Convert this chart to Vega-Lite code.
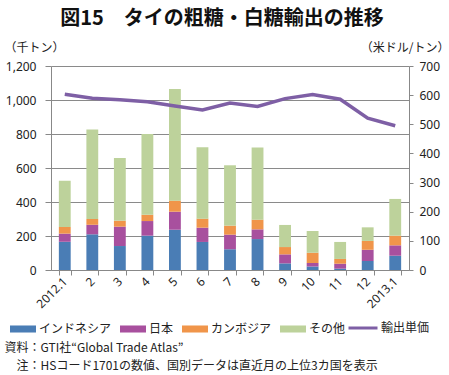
{
  "$schema": "https://vega.github.io/schema/vega-lite/v6.json",
  "width": 358,
  "height": 204,
  "autosize": {"type": "none"},
  "padding": {"left": 51, "top": 66, "right": 40, "bottom": 105},
  "background": "white",
  "title": {
    "text": "図15　タイの粗糖・白糖輸出の推移",
    "font": "Noto Sans CJK JP",
    "fontSize": 20,
    "fontWeight": "bold",
    "color": "#111",
    "anchor": "middle",
    "frame": "group",
    "dx": -8,
    "dy": -8
  },
  "config": {
    "view": {"stroke": null},
    "font": "Noto Sans CJK JP",
    "axis": {
      "labelFont": "Noto Sans",
      "labelFontSize": 12,
      "labelColor": "#222",
      "domainColor": "#888",
      "tickColor": "#888",
      "gridColor": "#8a8a8a",
      "gridOpacity": 1,
      "titleFont": "Noto Sans CJK JP",
      "titleFontSize": 12,
      "titleFontWeight": "normal",
      "titleColor": "#222"
    },
    "legend": {
      "padding": 0,
      "labelFont": "Noto Sans CJK JP",
      "labelFontSize": 12,
      "labelColor": "#222"
    }
  },
  "datasets": {
    "bars": [
      {"m": "2012.1", "s": "インドネシア", "k": 1, "v": 166},
      {"m": "2012.1", "s": "日本", "k": 2, "v": 48},
      {"m": "2012.1", "s": "カンボジア", "k": 3, "v": 39},
      {"m": "2012.1", "s": "その他", "k": 4, "v": 272},
      {"m": "2", "s": "インドネシア", "k": 1, "v": 210},
      {"m": "2", "s": "日本", "k": 2, "v": 56},
      {"m": "2", "s": "カンボジア", "k": 3, "v": 34},
      {"m": "2", "s": "その他", "k": 4, "v": 527},
      {"m": "3", "s": "インドネシア", "k": 1, "v": 141},
      {"m": "3", "s": "日本", "k": 2, "v": 114},
      {"m": "3", "s": "カンボジア", "k": 3, "v": 35},
      {"m": "3", "s": "その他", "k": 4, "v": 369},
      {"m": "4", "s": "インドネシア", "k": 1, "v": 202},
      {"m": "4", "s": "日本", "k": 2, "v": 86},
      {"m": "4", "s": "カンボジア", "k": 3, "v": 37},
      {"m": "4", "s": "その他", "k": 4, "v": 475},
      {"m": "5", "s": "インドネシア", "k": 1, "v": 237},
      {"m": "5", "s": "日本", "k": 2, "v": 106},
      {"m": "5", "s": "カンボジア", "k": 3, "v": 65},
      {"m": "5", "s": "その他", "k": 4, "v": 657},
      {"m": "6", "s": "インドネシア", "k": 1, "v": 165},
      {"m": "6", "s": "日本", "k": 2, "v": 84},
      {"m": "6", "s": "カンボジア", "k": 3, "v": 53},
      {"m": "6", "s": "その他", "k": 4, "v": 420},
      {"m": "7", "s": "インドネシア", "k": 1, "v": 122},
      {"m": "7", "s": "日本", "k": 2, "v": 86},
      {"m": "7", "s": "カンボジア", "k": 3, "v": 53},
      {"m": "7", "s": "その他", "k": 4, "v": 355},
      {"m": "8", "s": "インドネシア", "k": 1, "v": 182},
      {"m": "8", "s": "日本", "k": 2, "v": 57},
      {"m": "8", "s": "カンボジア", "k": 3, "v": 57},
      {"m": "8", "s": "その他", "k": 4, "v": 424},
      {"m": "9", "s": "インドネシア", "k": 1, "v": 39},
      {"m": "9", "s": "日本", "k": 2, "v": 53},
      {"m": "9", "s": "カンボジア", "k": 3, "v": 43},
      {"m": "9", "s": "その他", "k": 4, "v": 130},
      {"m": "10", "s": "インドネシア", "k": 1, "v": 20},
      {"m": "10", "s": "日本", "k": 2, "v": 21},
      {"m": "10", "s": "カンボジア", "k": 3, "v": 61},
      {"m": "10", "s": "その他", "k": 4, "v": 127},
      {"m": "11", "s": "インドネシア", "k": 1, "v": 8},
      {"m": "11", "s": "日本", "k": 2, "v": 29},
      {"m": "11", "s": "カンボジア", "k": 3, "v": 28},
      {"m": "11", "s": "その他", "k": 4, "v": 100},
      {"m": "12", "s": "インドネシア", "k": 1, "v": 53},
      {"m": "12", "s": "日本", "k": 2, "v": 66},
      {"m": "12", "s": "カンボジア", "k": 3, "v": 52},
      {"m": "12", "s": "その他", "k": 4, "v": 80},
      {"m": "2013.1", "s": "インドネシア", "k": 1, "v": 84},
      {"m": "2013.1", "s": "日本", "k": 2, "v": 61},
      {"m": "2013.1", "s": "カンボジア", "k": 3, "v": 57},
      {"m": "2013.1", "s": "その他", "k": 4, "v": 216}
    ],
    "price": [
      {"m": "2012.1", "p": 603},
      {"m": "2", "p": 589},
      {"m": "3", "p": 584},
      {"m": "4", "p": 577},
      {"m": "5", "p": 563},
      {"m": "6", "p": 549},
      {"m": "7", "p": 573},
      {"m": "8", "p": 561},
      {"m": "9", "p": 588},
      {"m": "10", "p": 602},
      {"m": "11", "p": 586},
      {"m": "12", "p": 521},
      {"m": "2013.1", "p": 495}
    ]
  },
  "encoding": {
    "x": {
      "field": "m",
      "type": "nominal",
      "sort": ["2012.1", "2", "3", "4", "5", "6", "7", "8", "9", "10", "11", "12", "2013.1"],
      "scale": {"paddingInner": 0.57, "paddingOuter": 0.285},
      "axis": {
        "labelAngle": -45,
        "labelAlign": "right",
        "labelBaseline": "middle",
        "labelPadding": 4,
        "labelOverlap": false,
        "tickBand": "extent",
        "tickSize": 5,
        "domainColor": "#888",
        "title": ["資料：GTI社“Global Trade Atlas”", "\u200b\u3000注：HSコード1701の数値、国別データは直近月の上位3カ国を表示"],
        "titleFont": "Noto Sans CJK JP",
        "titleFontSize": 12,
        "titleAlign": "left",
        "titleAnchor": "start",
        "titleBaseline": "alphabetic",
        "titleX": -47,
        "titleY": 81,
        "titleLineHeight": 18
      }
    }
  },
  "layer": [
    {
      "data": {"name": "bars"},
      "mark": {"type": "bar"},
      "encoding": {
        "y": {
          "field": "v",
          "type": "quantitative",
          "stack": "zero",
          "scale": {"domain": [0, 1200], "nice": false},
          "axis": {
            "values": [0, 200, 400, 600, 800, 1000, 1200],
            "format": ",d",
            "grid": true,
            "tickSize": 6,
            "labelPadding": 9,
            "title": "（千トン）",
            "titleAngle": 0,
            "titleAlign": "left",
            "titleBaseline": "middle",
            "titleX": -47,
            "titleY": -19
          }
        },
        "fill": {
          "field": "s",
          "type": "nominal",
          "scale": {
            "domain": ["インドネシア", "日本", "カンボジア", "その他"],
            "range": ["#4a7db5", "#a8509e", "#f0954a", "#bdd29b"]
          },
          "legend": {
            "orient": "none",
            "legendX": -41,
            "legendY": 250,
            "direction": "horizontal",
            "title": null,
            "symbolType": "M-1,-0.27H1V0.27H-1Z",
            "symbolSize": 676,
            "symbolStrokeWidth": 0,
            "symbolOpacity": 1,
            "labelOffset": 3,
            "columnPadding": 8
          }
        },
        "order": {"field": "k", "type": "quantitative"}
      }
    },
    {
      "data": {"name": "price"},
      "mark": {"type": "line", "strokeWidth": 3.5},
      "encoding": {
        "y": {
          "field": "p",
          "type": "quantitative",
          "scale": {"domain": [0, 700], "nice": false},
          "axis": {
            "orient": "right",
            "values": [0, 100, 200, 300, 400, 500, 600, 700],
            "grid": false,
            "tickSize": 4,
            "labelPadding": 6,
            "title": "（米ドル/トン）",
            "titleAngle": 0,
            "titleAlign": "right",
            "titleBaseline": "middle",
            "titleX": 40,
            "titleY": -19
          }
        },
        "stroke": {
          "datum": "輸出単価",
          "scale": {"range": ["#7e5fa5"]},
          "legend": {
            "orient": "none",
            "legendX": 296,
            "legendY": 246,
            "title": null,
            "symbolType": "stroke",
            "symbolSize": 841,
            "symbolStrokeWidth": 3,
            "labelOffset": 2
          }
        }
      }
    }
  ],
  "resolve": {"scale": {"y": "independent"}}
}
